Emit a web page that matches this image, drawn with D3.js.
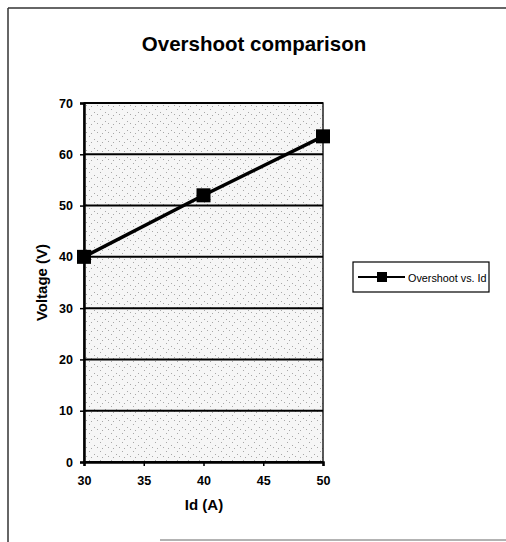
<!DOCTYPE html>
<html lang="en">
  <head>
    <meta charset="utf-8" />
    <title>Overshoot comparison</title>
    <script type="text/javascript" src="https://cdn.jsdelivr.net/npm/d3@7"></script>
    <style type="text/css">
body { margin: 0; background: white; }
svg text { font-family: "Liberation Sans", Arial, sans-serif; }
svg text.bold { font-weight: bold; }
    </style>
  </head>
  <body>
    <script type="text/javascript">
// values
var idValues = [30, 40, 50];
var overshoot = [40, 52, 63.5];
var xTicks = [30, 35, 40, 45, 50];
var yTicks = [0, 10, 20, 30, 40, 50, 60, 70];
var seriesName = "Overshoot vs. Id";

var w = 506;
var h = 542;
var plot = { left: 84, right: 323, top: 103, bottom: 462 };

var svg = d3.select("body")
            .append("svg")
            .attr("width", w)
            .attr("height", h);

// speckled grey plot background, like the scan
var defs = svg.append("defs");
var pat = defs.append("pattern")
              .attr("id", "speckle")
              .attr("width", 11)
              .attr("height", 9)
              .attr("patternUnits", "userSpaceOnUse");
pat.append("rect").attr("width", 11).attr("height", 9).attr("fill", "#f6f6f6");
[[1, 1], [6, 4], [3, 7], [9, 6]].forEach(function(p) {
  pat.append("rect").attr("x", p[0]).attr("y", p[1])
     .attr("width", 1).attr("height", 1).attr("fill", "#a8a8a8");
});

// outer chart frame (left and top edges visible in the scan)
svg.append("line").attr("x1", 8).attr("x2", 8).attr("y1", 8).attr("y2", 542)
   .attr("stroke", "#333").attr("stroke-width", 1.5);
svg.append("line").attr("x1", 8).attr("x2", 506).attr("y1", 8).attr("y2", 8)
   .attr("stroke", "#333").attr("stroke-width", 1.5);
svg.append("line").attr("x1", 160).attr("x2", 506).attr("y1", 540).attr("y2", 540)
   .attr("stroke", "#666").attr("stroke-width", 1);

svg.append("text")
   .attr("class", "bold")
   .attr("x", 254).attr("y", 51)
   .attr("text-anchor", "middle")
   .attr("font-size", "20.5px")
   .text("Overshoot comparison");

var xScale = d3.scaleLinear().domain([30, 50]).range([plot.left, plot.right]);
var yScale = d3.scaleLinear().domain([0, 70]).range([plot.bottom, plot.top]);

svg.append("rect")
   .attr("x", plot.left).attr("y", plot.top)
   .attr("width", plot.right - plot.left)
   .attr("height", plot.bottom - plot.top)
   .attr("fill", "url(#speckle)")
   .attr("stroke", "#222").attr("stroke-width", 1.5);

// horizontal gridlines
svg.append("g")
   .selectAll("line")
   .data(yTicks)
   .enter()
   .append("line")
   .attr("x1", plot.left).attr("x2", plot.right)
   .attr("y1", function(d) { return yScale(d); })
   .attr("y2", function(d) { return yScale(d); })
   .attr("stroke", "black")
   .attr("stroke-width", 2);

var xAxis = svg.append("g")
   .attr("transform", "translate(0," + plot.bottom + ")")
   .call(d3.axisBottom(xScale).tickValues(xTicks).tickSize(4).tickPadding(10));
var yAxis = svg.append("g")
   .attr("transform", "translate(" + plot.left + ",0)")
   .call(d3.axisLeft(yScale).tickValues(yTicks).tickSize(4).tickPadding(7));
[xAxis, yAxis].forEach(function(ax) {
  ax.attr("font-size", null).attr("font-family", null);
  ax.select(".domain").attr("stroke", "black").attr("stroke-width", 2.5);
  ax.selectAll(".tick line").attr("stroke", "black").attr("stroke-width", 1.5);
  ax.selectAll(".tick text")
    .attr("class", "bold")
    .style("font-size", "12.5px")
    .attr("fill", "black");
});

svg.append("text")
   .attr("class", "bold")
   .attr("x", 204).attr("y", 510)
   .attr("text-anchor", "middle")
   .attr("font-size", "15px")
   .text("Id (A)");
svg.append("text")
   .attr("class", "bold")
   .attr("transform", "translate(47," + (plot.top + plot.bottom) / 2 + ") rotate(-90)")
   .attr("text-anchor", "middle")
   .attr("font-size", "15px")
   .text("Voltage (V)");

var pts = idValues.map(function(d, i) { return [d, overshoot[i]]; });
svg.append("path")
   .datum(pts)
   .attr("fill", "none")
   .attr("stroke", "black")
   .attr("stroke-width", 3.5)
   .attr("d", d3.line()
                .x(function(d) { return xScale(d[0]); })
                .y(function(d) { return yScale(d[1]); }));

var m = 14; // marker size, px
svg.append("g")
   .selectAll("rect")
   .data(pts)
   .enter()
   .append("rect")
   .attr("x", function(d) { return xScale(d[0]) - m / 2; })
   .attr("y", function(d) { return yScale(d[1]) - m / 2; })
   .attr("width", m).attr("height", m)
   .attr("fill", "black");

// legend
var lg = svg.append("g").attr("transform", "translate(353,262)");
lg.append("rect")
  .attr("width", 136).attr("height", 30)
  .attr("fill", "white")
  .attr("stroke", "black").attr("stroke-width", 1.2);
lg.append("line")
  .attr("x1", 5).attr("x2", 52).attr("y1", 15).attr("y2", 15)
  .attr("stroke", "black").attr("stroke-width", 2);
lg.append("rect")
  .attr("x", 24).attr("y", 10).attr("width", 10).attr("height", 10)
  .attr("fill", "black");
lg.append("text")
  .attr("x", 55).attr("y", 19.5)
  .attr("font-size", "10.8px")
  .text(seriesName);
    </script>
  </body>
</html>
